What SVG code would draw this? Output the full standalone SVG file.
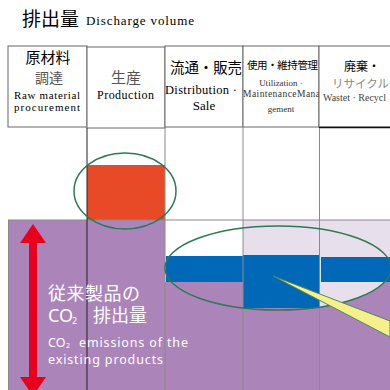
<svg xmlns="http://www.w3.org/2000/svg" width="390" height="390" viewBox="0 0 390 390">
<style>
.jp{font-family:"Noto Sans CJK JP","Noto Sans",sans-serif}
.en{font-family:"Liberation Serif","DejaVu Serif",serif}
.wt{font-family:"Noto Sans","Noto Sans CJK JP",sans-serif;fill:#fff}
.cell{fill:#fff;stroke:#666;stroke-width:1}
.grid{stroke:#8a8a8a;stroke-width:1}
.oval{fill:none;stroke:#2d7a55;stroke-width:1.5}
.purple{fill:#ab84ba}
.lav{fill:#e7e0ec}
.blue{fill:#0068b6}
</style>
<defs>
<clipPath id="c5"><rect x="319" y="220" width="71" height="170"/></clipPath>
</defs>
<rect width="390" height="390" fill="#fff"/>
<g id="title">
<text class="jp" x="22" y="26" font-size="19">排出量</text>
<text class="en" x="86" y="25" font-size="13" textLength="108">Discharge volume</text>
</g>
<g id="h1">
<rect class="cell" x="8" y="46" width="79" height="81" stroke="#555"/>
<text class="jp" x="48" y="63" font-size="15" text-anchor="middle">原材料</text>
<text class="jp" x="49" y="83" font-size="14" text-anchor="middle" fill="#555">調達</text>
<text class="en" x="14" y="99" font-size="11" textLength="66">Raw material</text>
<text class="en" x="14" y="111" font-size="11" textLength="66">procurement</text>
</g>
<g id="h2">
<rect class="cell" x="87" y="47" width="78" height="81" stroke="#777"/>
<text class="jp" x="126" y="83" font-size="15" text-anchor="middle" fill="#555">生産</text>
<text class="en" x="97" y="99" font-size="12" textLength="57">Production</text>
</g>
<g id="h3">
<rect class="cell" x="165" y="46" width="78" height="81" stroke="#aaa"/>
<text class="jp" x="170" y="73" font-size="14.5" textLength="72">流通・販売</text>
<text class="en" x="165" y="94" font-size="12.5" textLength="72">Distribution ·</text>
<text class="en" x="204" y="110" font-size="13" text-anchor="middle">Sale</text>
</g>
<g id="h4">
<rect class="cell" x="243" y="46" width="76" height="81" stroke="#333"/>
<text class="jp" x="247" y="69" font-size="10.5" textLength="71">使用・維持管理</text>
<text class="en" x="281" y="86" font-size="9" text-anchor="middle" fill="#333">Utilization ·</text>
<text class="en" x="243" y="97" font-size="9.5" textLength="77" fill="#333">MaintenanceMana</text>
<text class="en" x="281" y="112" font-size="9" text-anchor="middle" fill="#333">gement</text>
</g>
<g id="h5">
<rect class="cell" x="319" y="46" width="75" height="81" stroke="#aaa"/>
<line x1="319" y1="127.5" x2="390" y2="127.5" stroke="#111" stroke-width="1.5"/>
<text class="jp" x="344" y="71" font-size="12">廃棄・</text>
<text class="jp" x="332" y="88" font-size="11.5" textLength="57" fill="#888">リサイクル</text>
<text class="en" x="323" y="101" font-size="10" fill="#444">Wastet · Recycl</text>
</g>
<g id="col12">
<rect class="purple" x="8" y="220" width="157" height="170"/>
<rect id="production-bar" x="87" y="165" width="78" height="55" fill="#e84a27"/>
</g>
<g id="col3">
<rect class="blue" x="166" y="256" width="77" height="26"/>
<rect class="purple" x="165" y="282" width="78" height="108"/>
</g>
<g id="col4">
<rect class="lav" x="243" y="220" width="76" height="36"/>
<rect class="blue" x="243" y="255" width="76" height="53"/>
<rect class="purple" x="243" y="308" width="76" height="82"/>
</g>
<g id="col5">
<rect class="lav" x="319" y="220" width="71" height="40"/>
<rect class="purple" x="319" y="258" width="71" height="132"/>
<ellipse class="lav" cx="278" cy="268" rx="113" ry="42" clip-path="url(#c5)"/>
<rect class="blue" x="321" y="257" width="69" height="25"/>
</g>
<g id="grid">
<line class="grid" x1="8" y1="220" x2="390" y2="220"/>
<line class="grid" x1="8.5" y1="220" x2="8.5" y2="390" stroke="#999"/>
<line x1="87" y1="128" x2="87" y2="390" stroke="#222" stroke-width="1"/>
<line class="grid" x1="165" y1="128" x2="165" y2="390"/>
<line class="grid" x1="243" y1="128" x2="243" y2="390" stroke="#777"/>
<line class="grid" x1="319.5" y1="128" x2="319.5" y2="390" stroke="#777"/>
</g>
<g id="ovals">
<ellipse class="oval" cx="125" cy="191" rx="51" ry="38"/>
<ellipse class="oval" cx="278" cy="268" rx="113" ry="42"/>
</g>
<g id="connectors">
<polygon points="273,276 390,321 390,337" fill="#f6f08c" stroke="#4e8a5a" stroke-width="1"/>
<polygon points="33,224 46,243 37,243 37,377 46,377 33,396 20,377 29,377 29,243 20,243" fill="#e8001c"/>
</g>
<g id="label">
<text class="wt" x="48" y="300" font-size="18" textLength="92">従来製品の</text>
<text class="wt" x="48" y="322" font-size="18">CO</text>
<text class="wt" x="72" y="324" font-size="9">2</text>
<text class="wt" x="93" y="322" font-size="18" textLength="54">排出量</text>
<text class="wt" x="48" y="347" font-size="12.5">CO</text>
<text class="wt" x="66" y="348" font-size="7">2</text>
<text class="wt" x="79" y="347" font-size="12.5" textLength="109">emissions of the</text>
<text class="wt" x="48" y="364" font-size="12.5" textLength="115">existing products</text>
</g>
</svg>
